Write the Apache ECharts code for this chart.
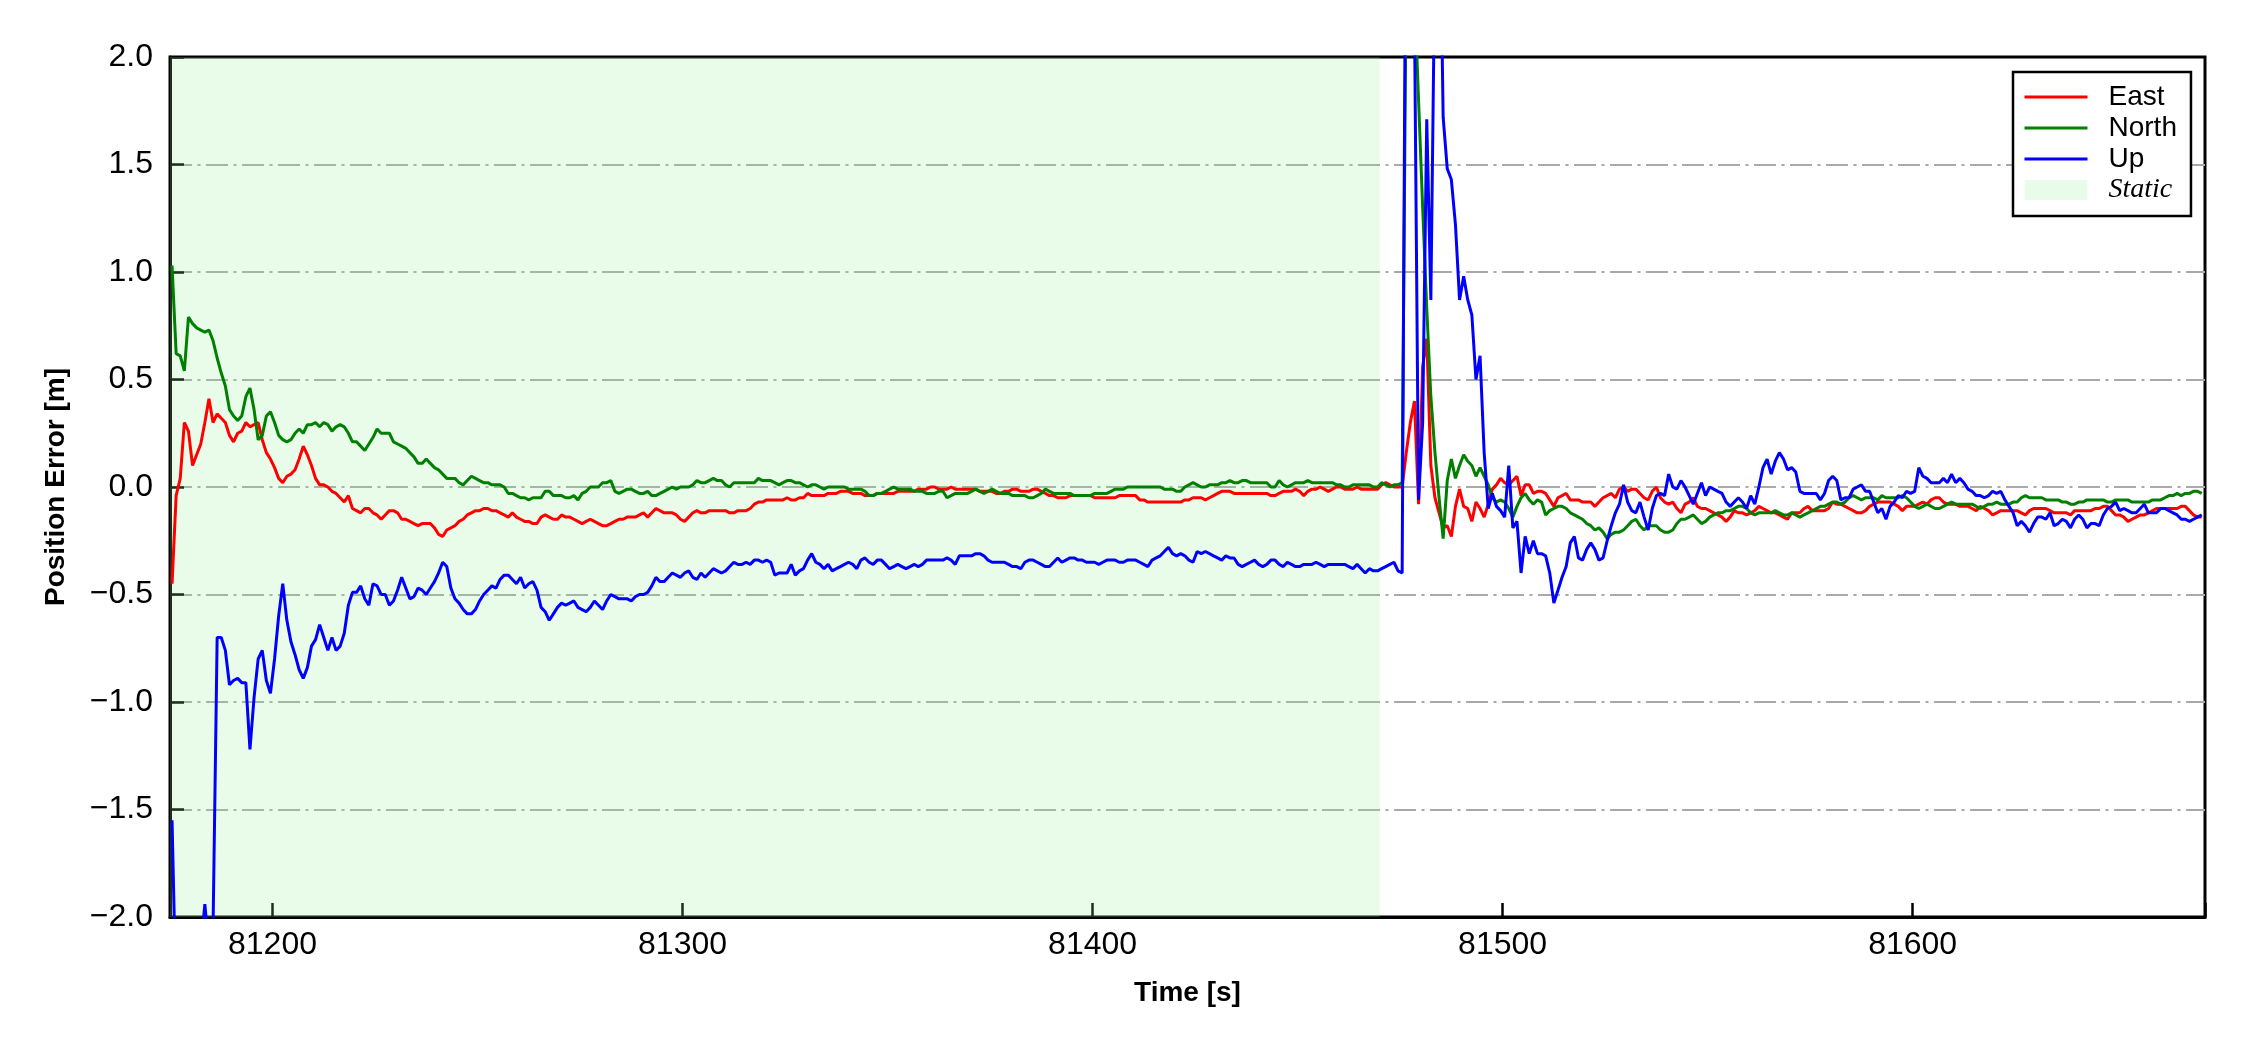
<!DOCTYPE html>
<html>
<head>
<meta charset="utf-8">
<title>Position Error</title>
<script src="https://cdn.jsdelivr.net/npm/echarts@6/dist/echarts.min.js"></script>
<style>
  html, body { margin: 0; padding: 0; background: #fff; }
  #chart { width: 2250px; height: 1050px; }
</style>
</head>
<body>
<div id="chart"></div>
<script>
// samples are 1 s apart, first epoch t0
const t0 = 81175.5;
const dt = 1;
const xRange = [81175, 81671.3];
const staticSpan = [81175, 81470];
const xTicks = [81200, 81300, 81400, 81500, 81600];

// East error [m]
const east = [
  -0.45, -0.04, 0.04, 0.30, 0.26, 0.10, 0.15, 0.20, 0.30, 0.41,
  0.30, 0.34, 0.32, 0.30, 0.24, 0.21, 0.25, 0.26, 0.30, 0.28,
  0.29, 0.30, 0.22, 0.16, 0.13, 0.09, 0.04, 0.02, 0.05, 0.06,
  0.08, 0.13, 0.19, 0.15, 0.10, 0.04, 0.01, 0.01, 0.00, -0.02,
  -0.03, -0.05, -0.07, -0.04, -0.10, -0.11, -0.12, -0.10, -0.10, -0.12,
  -0.13, -0.15, -0.13, -0.11, -0.11, -0.12, -0.15, -0.15, -0.16, -0.17,
  -0.18, -0.17, -0.17, -0.17, -0.19, -0.22, -0.23, -0.20, -0.19, -0.18,
  -0.16, -0.15, -0.13, -0.12, -0.11, -0.11, -0.10, -0.10, -0.11, -0.11,
  -0.12, -0.13, -0.14, -0.12, -0.14, -0.15, -0.16, -0.16, -0.17, -0.17,
  -0.14, -0.13, -0.14, -0.15, -0.15, -0.13, -0.14, -0.14, -0.15, -0.16,
  -0.17, -0.16, -0.15, -0.16, -0.17, -0.18, -0.18, -0.17, -0.16, -0.15,
  -0.15, -0.14, -0.14, -0.14, -0.13, -0.12, -0.14, -0.12, -0.10, -0.11,
  -0.12, -0.12, -0.12, -0.13, -0.15, -0.16, -0.14, -0.12, -0.11, -0.12,
  -0.12, -0.11, -0.11, -0.11, -0.11, -0.11, -0.12, -0.12, -0.11, -0.11,
  -0.11, -0.10, -0.08, -0.07, -0.07, -0.06, -0.06, -0.06, -0.06, -0.06,
  -0.05, -0.06, -0.06, -0.05, -0.05, -0.03, -0.04, -0.04, -0.04, -0.04,
  -0.03, -0.03, -0.03, -0.02, -0.02, -0.02, -0.03, -0.03, -0.03, -0.04,
  -0.04, -0.04, -0.03, -0.03, -0.03, -0.03, -0.03, -0.02, -0.02, -0.02,
  -0.02, -0.02, -0.01, -0.01, -0.01, 0.00, 0.00, -0.01, -0.01, -0.01,
  0.00, -0.01, -0.01, -0.01, -0.01, -0.01, -0.01, -0.02, -0.02, -0.02,
  -0.02, -0.03, -0.03, -0.02, -0.02, -0.01, -0.01, -0.02, -0.02, -0.02,
  -0.01, -0.01, -0.02, -0.03, -0.04, -0.04, -0.05, -0.05, -0.05, -0.04,
  -0.04, -0.04, -0.04, -0.04, -0.04, -0.05, -0.05, -0.05, -0.05, -0.05,
  -0.05, -0.04, -0.04, -0.04, -0.04, -0.04, -0.06, -0.06, -0.07, -0.07,
  -0.07, -0.07, -0.07, -0.07, -0.07, -0.07, -0.07, -0.06, -0.06, -0.05,
  -0.05, -0.05, -0.06, -0.05, -0.04, -0.03, -0.02, -0.02, -0.02, -0.03,
  -0.03, -0.03, -0.03, -0.03, -0.03, -0.03, -0.03, -0.03, -0.04, -0.04,
  -0.03, -0.02, -0.02, -0.02, -0.01, -0.02, -0.04, -0.02, -0.01, -0.01,
  0.00, -0.01, -0.02, -0.01, 0.00, 0.00, -0.01, -0.01, -0.01, 0.00,
  -0.01, -0.01, -0.01, -0.01, -0.01, 0.01, 0.02, 0.01, 0.00, 0.00,
  0.00, 0.16, 0.30, 0.40, -0.08, 0.56, 0.69, 0.10, -0.05, -0.12,
  -0.19, -0.18, -0.23, -0.09, -0.01, -0.09, -0.10, -0.16, -0.07, -0.10,
  -0.14, -0.08, -0.01, 0.01, 0.04, 0.02, 0.01, 0.03, 0.05, -0.04,
  0.01, 0.01, -0.03, -0.02, -0.02, -0.03, -0.06, -0.09, -0.05, -0.04,
  -0.03, -0.06, -0.06, -0.06, -0.07, -0.07, -0.07, -0.09, -0.07, -0.05,
  -0.04, -0.03, -0.05, -0.01, 0.00, -0.02, -0.01, -0.01, -0.03, -0.05,
  -0.06, -0.02, 0.00, -0.05, -0.07, -0.08, -0.07, -0.10, -0.12, -0.08,
  -0.07, -0.05, -0.09, -0.10, -0.10, -0.11, -0.12, -0.13, -0.14, -0.16,
  -0.14, -0.11, -0.12, -0.12, -0.13, -0.12, -0.11, -0.09, -0.10, -0.11,
  -0.12, -0.12, -0.13, -0.14, -0.15, -0.12, -0.12, -0.12, -0.10, -0.09,
  -0.11, -0.11, -0.11, -0.11, -0.10, -0.07, -0.08, -0.08, -0.09, -0.10,
  -0.11, -0.12, -0.12, -0.11, -0.09, -0.08, -0.07, -0.07, -0.07, -0.07,
  -0.08, -0.09, -0.11, -0.09, -0.09, -0.09, -0.08, -0.07, -0.08, -0.06,
  -0.05, -0.05, -0.07, -0.08, -0.08, -0.08, -0.09, -0.09, -0.09, -0.10,
  -0.11, -0.09, -0.10, -0.11, -0.13, -0.12, -0.11, -0.11, -0.11, -0.11,
  -0.11, -0.12, -0.13, -0.11, -0.10, -0.10, -0.10, -0.10, -0.11, -0.12,
  -0.12, -0.12, -0.12, -0.13, -0.11, -0.11, -0.11, -0.11, -0.11, -0.10,
  -0.10, -0.09, -0.09, -0.11, -0.13, -0.13, -0.14, -0.16, -0.15, -0.14,
  -0.13, -0.13, -0.12, -0.11, -0.10, -0.10, -0.10, -0.10, -0.10, -0.10,
  -0.09, -0.09, -0.11, -0.13, -0.14, -0.14
];

// North error [m]
const north = [
  1.03, 0.62, 0.61, 0.54, 0.79, 0.76, 0.74, 0.73, 0.72, 0.73,
  0.68, 0.60, 0.53, 0.47, 0.36, 0.33, 0.31, 0.33, 0.42, 0.46,
  0.36, 0.22, 0.24, 0.33, 0.35, 0.30, 0.24, 0.22, 0.21, 0.22,
  0.25, 0.27, 0.25, 0.29, 0.29, 0.30, 0.28, 0.30, 0.29, 0.26,
  0.28, 0.29, 0.28, 0.25, 0.21, 0.21, 0.19, 0.17, 0.20, 0.23,
  0.27, 0.25, 0.25, 0.25, 0.21, 0.20, 0.19, 0.18, 0.16, 0.14,
  0.11, 0.11, 0.13, 0.11, 0.09, 0.08, 0.06, 0.04, 0.04, 0.04,
  0.02, 0.01, 0.03, 0.05, 0.04, 0.03, 0.02, 0.02, 0.01, 0.01,
  0.01, 0.00, -0.03, -0.03, -0.04, -0.05, -0.05, -0.06, -0.05, -0.05,
  -0.05, -0.02, -0.02, -0.04, -0.04, -0.04, -0.05, -0.05, -0.04, -0.06,
  -0.03, -0.02, 0.00, 0.00, 0.00, 0.02, 0.02, 0.03, -0.02, -0.03,
  -0.02, -0.01, -0.01, -0.02, -0.03, -0.03, -0.02, -0.04, -0.04, -0.03,
  -0.02, -0.01, 0.00, -0.01, 0.00, 0.00, 0.00, 0.01, 0.03, 0.02,
  0.02, 0.03, 0.04, 0.03, 0.03, 0.01, 0.00, 0.02, 0.02, 0.02,
  0.02, 0.02, 0.02, 0.04, 0.03, 0.03, 0.03, 0.02, 0.01, 0.02,
  0.03, 0.03, 0.02, 0.02, 0.01, 0.00, 0.01, 0.01, 0.00, -0.01,
  0.00, 0.00, 0.00, 0.00, 0.00, -0.01, -0.01, -0.01, -0.01, -0.02,
  -0.04, -0.04, -0.03, -0.03, -0.02, -0.01, 0.00, -0.01, -0.01, -0.01,
  -0.01, -0.02, -0.02, -0.02, -0.03, -0.03, -0.03, -0.02, -0.02, -0.05,
  -0.04, -0.03, -0.03, -0.03, -0.03, -0.02, -0.01, -0.02, -0.03, -0.02,
  -0.01, -0.02, -0.03, -0.03, -0.03, -0.04, -0.04, -0.04, -0.04, -0.05,
  -0.05, -0.04, -0.03, -0.01, -0.02, -0.03, -0.03, -0.03, -0.03, -0.03,
  -0.04, -0.04, -0.04, -0.04, -0.04, -0.03, -0.03, -0.03, -0.03, -0.02,
  -0.01, -0.01, -0.01, 0.00, 0.00, 0.00, 0.00, 0.00, 0.00, 0.00,
  0.00, 0.00, -0.01, -0.01, -0.01, -0.02, -0.02, 0.00, 0.01, 0.02,
  0.01, 0.00, 0.00, 0.01, 0.01, 0.01, 0.02, 0.02, 0.03, 0.02,
  0.02, 0.03, 0.03, 0.02, 0.02, 0.02, 0.02, 0.02, 0.00, 0.00,
  0.03, 0.01, 0.00, 0.01, 0.02, 0.02, 0.02, 0.03, 0.02, 0.02,
  0.02, 0.02, 0.02, 0.02, 0.01, 0.01, 0.00, 0.00, 0.01, 0.01,
  0.01, 0.01, 0.01, 0.00, 0.00, 0.02, 0.01, 0.00, 0.01, 0.01,
  0.02, 2.40, 2.80, 2.30, 1.80, 1.30, 0.83, 0.42, 0.16, -0.05,
  -0.24, 0.03, 0.13, 0.04, 0.10, 0.15, 0.12, 0.10, 0.05, 0.09,
  0.05, 0.01, -0.05, -0.07, -0.06, -0.07, -0.10, -0.14, -0.09, -0.05,
  -0.03, -0.06, -0.08, -0.06, -0.07, -0.13, -0.11, -0.10, -0.09, -0.09,
  -0.10, -0.12, -0.13, -0.14, -0.15, -0.17, -0.18, -0.20, -0.19, -0.21,
  -0.24, -0.22, -0.21, -0.21, -0.20, -0.18, -0.16, -0.15, -0.18, -0.20,
  -0.18, -0.18, -0.18, -0.20, -0.21, -0.21, -0.20, -0.17, -0.15, -0.15,
  -0.14, -0.13, -0.15, -0.17, -0.16, -0.14, -0.13, -0.12, -0.12, -0.11,
  -0.11, -0.10, -0.09, -0.09, -0.10, -0.12, -0.13, -0.12, -0.12, -0.12,
  -0.12, -0.11, -0.12, -0.13, -0.13, -0.12, -0.13, -0.14, -0.13, -0.12,
  -0.11, -0.10, -0.09, -0.09, -0.08, -0.07, -0.07, -0.08, -0.07, -0.05,
  -0.04, -0.05, -0.06, -0.05, -0.05, -0.05, -0.06, -0.04, -0.05, -0.05,
  -0.05, -0.05, -0.04, -0.05, -0.07, -0.09, -0.10, -0.09, -0.08, -0.09,
  -0.10, -0.10, -0.09, -0.08, -0.07, -0.08, -0.08, -0.08, -0.08, -0.08,
  -0.09, -0.10, -0.09, -0.08, -0.08, -0.07, -0.08, -0.08, -0.08, -0.07,
  -0.07, -0.05, -0.04, -0.05, -0.05, -0.05, -0.05, -0.06, -0.06, -0.06,
  -0.06, -0.07, -0.07, -0.08, -0.08, -0.07, -0.07, -0.06, -0.06, -0.06,
  -0.06, -0.06, -0.07, -0.07, -0.06, -0.06, -0.06, -0.06, -0.07, -0.07,
  -0.07, -0.07, -0.07, -0.06, -0.06, -0.06, -0.05, -0.04, -0.04, -0.03,
  -0.04, -0.03, -0.03, -0.02, -0.02, -0.03
];

// Up error [m]
const up = [
  -1.55, -2.40, -2.60, -2.50, -2.50, -2.40, -2.40, -2.15, -1.94, -2.15,
  -2.05, -0.70, -0.70, -0.76, -0.92, -0.90, -0.89, -0.91, -0.91, -1.22,
  -0.98, -0.80, -0.76, -0.90, -0.96, -0.80, -0.60, -0.45, -0.62, -0.72,
  -0.78, -0.85, -0.89, -0.84, -0.74, -0.71, -0.64, -0.70, -0.76, -0.70,
  -0.76, -0.74, -0.68, -0.55, -0.49, -0.49, -0.46, -0.52, -0.55, -0.45,
  -0.46, -0.50, -0.50, -0.55, -0.53, -0.48, -0.42, -0.47, -0.52, -0.51,
  -0.47, -0.48, -0.50, -0.47, -0.44, -0.40, -0.35, -0.37, -0.47, -0.52,
  -0.54, -0.57, -0.59, -0.59, -0.57, -0.53, -0.50, -0.48, -0.46, -0.47,
  -0.43, -0.41, -0.41, -0.43, -0.45, -0.42, -0.47, -0.45, -0.44, -0.48,
  -0.56, -0.58, -0.62, -0.59, -0.56, -0.54, -0.55, -0.54, -0.53, -0.56,
  -0.57, -0.58, -0.56, -0.53, -0.55, -0.57, -0.53, -0.50, -0.51, -0.52,
  -0.52, -0.52, -0.53, -0.51, -0.50, -0.50, -0.49, -0.46, -0.42, -0.44,
  -0.44, -0.42, -0.40, -0.41, -0.42, -0.40, -0.39, -0.42, -0.43, -0.40,
  -0.42, -0.40, -0.38, -0.39, -0.40, -0.39, -0.37, -0.35, -0.36, -0.36,
  -0.35, -0.36, -0.34, -0.34, -0.35, -0.34, -0.35, -0.41, -0.40, -0.40,
  -0.40, -0.36, -0.41, -0.39, -0.38, -0.34, -0.31, -0.35, -0.36, -0.38,
  -0.36, -0.39, -0.38, -0.37, -0.36, -0.35, -0.36, -0.38, -0.34, -0.33,
  -0.35, -0.36, -0.34, -0.34, -0.36, -0.38, -0.37, -0.36, -0.37, -0.38,
  -0.37, -0.36, -0.37, -0.36, -0.34, -0.34, -0.34, -0.34, -0.34, -0.33,
  -0.34, -0.36, -0.32, -0.32, -0.32, -0.32, -0.31, -0.31, -0.32, -0.34,
  -0.35, -0.35, -0.35, -0.35, -0.36, -0.37, -0.37, -0.38, -0.35, -0.34,
  -0.34, -0.35, -0.36, -0.37, -0.37, -0.35, -0.33, -0.35, -0.34, -0.33,
  -0.33, -0.34, -0.34, -0.35, -0.35, -0.35, -0.36, -0.35, -0.34, -0.34,
  -0.34, -0.35, -0.35, -0.34, -0.34, -0.34, -0.35, -0.36, -0.37, -0.34,
  -0.33, -0.32, -0.30, -0.28, -0.31, -0.32, -0.31, -0.32, -0.34, -0.35,
  -0.30, -0.31, -0.30, -0.31, -0.32, -0.33, -0.34, -0.32, -0.33, -0.33,
  -0.36, -0.37, -0.36, -0.35, -0.34, -0.36, -0.37, -0.36, -0.34, -0.34,
  -0.36, -0.37, -0.35, -0.36, -0.37, -0.37, -0.36, -0.36, -0.36, -0.35,
  -0.36, -0.37, -0.36, -0.36, -0.36, -0.36, -0.36, -0.37, -0.38, -0.36,
  -0.38, -0.40, -0.38, -0.39, -0.39, -0.38, -0.37, -0.36, -0.35, -0.39,
  -0.40, 3.20, 3.50, 2.20, -0.06, 0.30, 1.71, 0.87, 2.50, 3.00,
  1.72, 1.48, 1.43, 1.22, 0.87, 0.98, 0.87, 0.80, 0.50, 0.61,
  0.16, -0.10, -0.03, -0.09, -0.11, -0.14, 0.10, -0.19, -0.16, -0.40,
  -0.23, -0.31, -0.25, -0.31, -0.31, -0.32, -0.40, -0.54, -0.48, -0.42,
  -0.37, -0.26, -0.23, -0.33, -0.34, -0.29, -0.26, -0.29, -0.34, -0.33,
  -0.25, -0.18, -0.12, -0.08, 0.01, -0.07, -0.11, -0.12, -0.07, -0.14,
  -0.20, -0.10, -0.04, -0.03, -0.04, 0.06, 0.00, -0.01, 0.03, 0.00,
  -0.04, -0.08, -0.03, 0.02, -0.04, 0.00, -0.01, -0.02, -0.03, -0.07,
  -0.09, -0.07, -0.05, -0.07, -0.10, -0.04, -0.08, 0.00, 0.09, 0.13,
  0.06, 0.12, 0.16, 0.13, 0.08, 0.09, 0.07, -0.02, -0.03, -0.03,
  -0.03, -0.03, -0.06, -0.03, 0.03, 0.05, 0.03, -0.06, -0.05, -0.05,
  -0.01, 0.00, 0.01, -0.02, -0.02, -0.07, -0.12, -0.10, -0.15, -0.09,
  -0.07, -0.04, -0.05, -0.02, -0.03, -0.02, 0.09, 0.05, 0.04, 0.02,
  0.02, 0.02, 0.04, 0.02, 0.06, 0.02, 0.04, 0.02, -0.01, -0.02,
  -0.04, -0.04, -0.05, -0.04, -0.02, -0.03, -0.02, -0.06, -0.09, -0.12,
  -0.18, -0.16, -0.18, -0.21, -0.17, -0.14, -0.14, -0.15, -0.12, -0.18,
  -0.17, -0.15, -0.16, -0.19, -0.15, -0.13, -0.15, -0.19, -0.17, -0.17,
  -0.18, -0.13, -0.10, -0.09, -0.07, -0.11, -0.10, -0.11, -0.12, -0.12,
  -0.10, -0.08, -0.12, -0.12, -0.12, -0.10, -0.10, -0.11, -0.12, -0.13,
  -0.15, -0.15, -0.16, -0.15, -0.14, -0.13
];

const toPairs = arr => arr.map((v, i) => [t0 + i * dt, v]);
const fontSans = "'Liberation Sans', Arial, sans-serif";
const minus = v => v.toFixed(1).replace('-', '\u2212');

const chart = echarts.init(document.getElementById('chart'), null, { renderer: 'canvas' });

const lineSeries = (name, color, data) => ({
  name: name,
  type: 'line',
  data: toPairs(data),
  showSymbol: false,
  symbol: 'none',
  clip: true,
  lineStyle: { color: color, width: 3 },
  itemStyle: { color: color },
  z: 3
});

// legend entry for a line: hide the marker, keep the stroke
const lineEntry = name => ({ name: name, itemStyle: { opacity: 0 }, lineStyle: { width: 3 } });

const option = {
  animation: false,
  backgroundColor: '#fff',
  grid: {
    left: 170, right: 45, top: 57, bottom: 133,
    show: true,
    borderColor: '#000',
    borderWidth: 3,
    backgroundColor: 'transparent',
    outerBoundsMode: 'none'
  },
  legend: {
    orient: 'vertical',
    left: 2013,
    top: 72,
    padding: [11, 14, 12, 10],
    itemGap: 3,
    itemWidth: 63,
    itemHeight: 20,
    backgroundColor: '#fff',
    borderColor: '#000',
    borderWidth: 2.5,
    borderRadius: 0,
    textStyle: { fontFamily: fontSans, fontSize: 28, color: '#000', lineHeight: 28, padding: [0, 0, 0, 16] },
    data: [
      lineEntry('East'),
      lineEntry('North'),
      lineEntry('Up'),
      {
        name: 'Static',
        icon: 'rect',
        itemStyle: { color: 'rgba(144,238,144,0.2)' },
        textStyle: { fontFamily: "'Liberation Serif', 'Times New Roman', serif", fontStyle: 'italic', fontSize: 28, color: '#000', padding: [0, 0, 0, 16] }
      }
    ]
  },
  xAxis: {
    type: 'value',
    min: xRange[0],
    max: xRange[1],
    splitNumber: 5,
    name: 'Time [s]',
    nameLocation: 'middle',
    nameGap: 62,
    nameTextStyle: { fontFamily: fontSans, fontSize: 28, fontWeight: 'bold', color: '#000' },
    axisLine: { show: true, onZero: false, lineStyle: { color: '#000', width: 3 } },
    axisTick: { show: true, inside: true, length: 14, lineStyle: { color: '#000', width: 2.5 } },
    axisLabel: {
      fontFamily: fontSans, fontSize: 32, color: '#000', margin: 12,
      formatter: v => (xTicks.indexOf(v) >= 0 ? String(v) : '')
    },
    splitLine: { show: false }
  },
  yAxis: {
    type: 'value',
    min: -2,
    max: 2,
    interval: 0.5,
    name: 'Position Error [m]',
    nameLocation: 'middle',
    nameRotate: 90,
    nameGap: 100,
    nameTextStyle: { fontFamily: fontSans, fontSize: 28, fontWeight: 'bold', color: '#000' },
    axisLine: { show: true, onZero: false, lineStyle: { color: '#000', width: 3 } },
    axisTick: { show: true, inside: true, length: 14, lineStyle: { color: '#000', width: 2.5 } },
    axisLabel: { fontFamily: fontSans, fontSize: 32, color: '#000', margin: 17, formatter: minus },
    splitLine: {
      show: true,
      showMinLine: false,
      showMaxLine: false,
      lineStyle: { color: '#a9a9a9', width: 2, type: [22, 5.5, 3, 5.5] }
    }
  },
  series: [
    lineSeries('East', '#ff0000', east),
    lineSeries('North', '#008000', north),
    lineSeries('Up', '#0000ff', up),
    {
      name: 'Static',
      type: 'line',
      data: [],
      symbol: 'none',
      itemStyle: { color: 'rgba(144,238,144,0.2)' },
      lineStyle: { width: 0 },
      z: 1,
      markArea: {
        silent: true,
        itemStyle: { color: 'rgba(144,238,144,0.2)' },
        data: [[{ xAxis: staticSpan[0] }, { xAxis: staticSpan[1] }]]
      }
    }
  ]
};

chart.setOption(option);
</script>
</body>
</html>
